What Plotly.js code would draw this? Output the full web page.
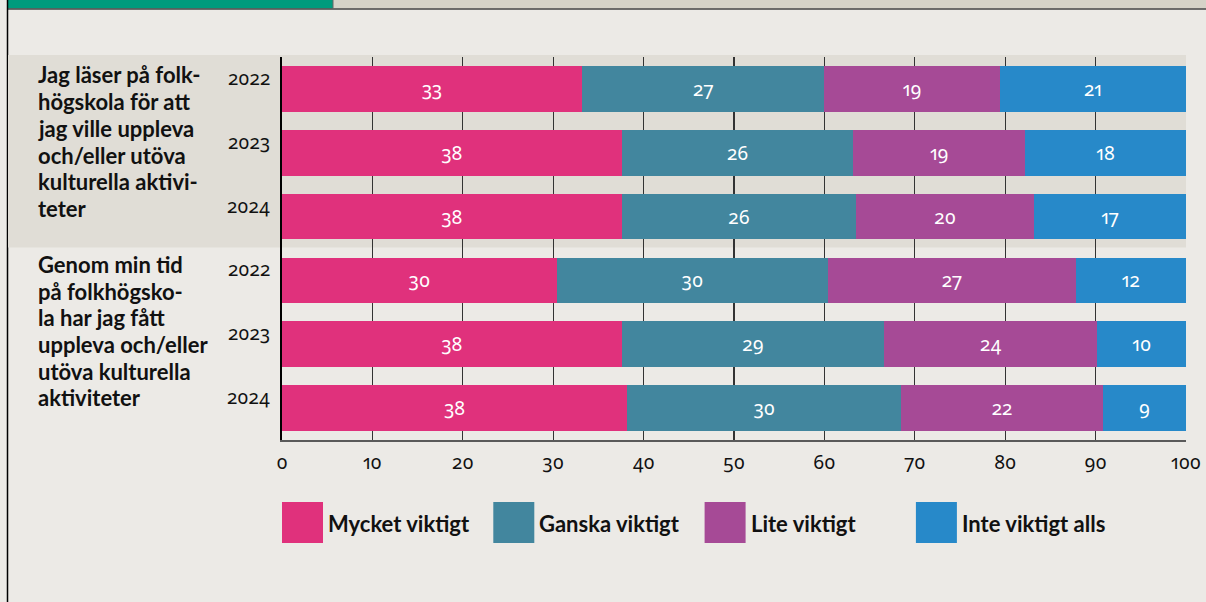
<!DOCTYPE html>
<html>
<head>
<meta charset="utf-8">
<script src="https://cdn.plot.ly/plotly-3.0.1.min.js"></script>
<style>
  html, body { margin: 0; padding: 0; background: #ECEAE6; }
  #chart { width: 1206px; height: 602px; }
  text { font-feature-settings: "onum" 1, "pnum" 1; }
</style>
</head>
<body>
<div id="chart"></div>
<script>
// ---- data ----
const groups = [
  'Jag läser på folk-<br>högskola för att<br>jag ville uppleva<br>och/eller utöva<br>kulturella aktivi-<br>teter',
  'Genom min tid<br>på folkhögsko-<br>la har jag fått<br>uppleva och/eller<br>utöva kulturella<br>aktiviteter'
];
const years = ['2022', '2023', '2024'];
const seriesNames = ['Mycket viktigt', 'Ganska viktigt', 'Lite viktigt', 'Inte viktigt alls'];
const seriesColors = ['#E0317C', '#42869E', '#A64A96', '#2789C9'];
const mycketViktigt = [33.2, 37.6, 37.6, 30.4, 37.6, 38.2];
const ganskaViktigt = [26.8, 25.6, 25.9, 30.0, 29.0, 30.3];
const liteViktigt   = [19.4, 19.0, 19.7, 27.4, 23.6, 22.3];
const inteViktigt   = [20.6, 17.8, 16.8, 12.2, 9.8, 9.2];
const xTicks = [0, 10, 20, 30, 40, 50, 60, 70, 80, 90, 100];

// ---- layout helpers ----
const FULLW = 1206, FULLH = 602;
const M = { l: 282, r: 20, t: 57, b: 162 };
const PW = FULLW - M.l - M.r, PH = FULLH - M.t - M.b;
const px = x => (x - M.l) / PW;
const py = y => (FULLH - M.b - y) / PH;

const NUMFONT = '"Noto Sans", "DejaVu Sans", sans-serif';
const TXTFONT = 'Lato, "Noto Sans", sans-serif';

const rowKeys = [];
groups.forEach((g, gi) => years.forEach(y => rowKeys.push('g' + gi + '-' + y)));

const seriesValues = [mycketViktigt, ganskaViktigt, liteViktigt, inteViktigt];
const traces = seriesNames.map((name, i) => ({
  type: 'bar',
  orientation: 'h',
  name: name,
  y: rowKeys,
  x: seriesValues[i],
  marker: { color: seriesColors[i], line: { width: 0 } },
  width: 0.715,
  texttemplate: '%{x:.0f}',
  textposition: 'inside',
  insidetextanchor: 'middle',
  constraintext: 'none',
  textfont: { family: NUMFONT, size: 19, color: '#FFFFFF' },
  hoverinfo: 'skip',
  showlegend: false
}));

const shapes = [];
const annotations = [];

// top decoration strip
shapes.push({ type: 'rect', xref: 'paper', yref: 'paper', x0: px(333), x1: px(1206), y0: py(8.5), y1: py(0),
  fillcolor: '#D6D3C8', line: { width: 0 }, layer: 'below' });
shapes.push({ type: 'rect', xref: 'paper', yref: 'paper', x0: px(8), x1: px(333), y0: py(8.5), y1: py(0),
  fillcolor: '#009B7D', line: { width: 0 }, layer: 'below' });
shapes.push({ type: 'line', xref: 'paper', yref: 'paper', x0: px(8), x1: px(1206), y0: py(9), y1: py(9),
  line: { color: '#444444', width: 1.5 }, layer: 'below' });
shapes.push({ type: 'line', xref: 'paper', yref: 'paper', x0: px(333), x1: px(333), y0: py(0), y1: py(9),
  line: { color: '#666666', width: 1 }, layer: 'below' });
// left border
shapes.push({ type: 'line', xref: 'paper', yref: 'paper', x0: px(7.5), x1: px(7.5), y0: py(0), y1: py(602),
  line: { color: '#000000', width: 1.5 }, layer: 'below' });
// band behind first group
shapes.push({ type: 'rect', xref: 'paper', yref: 'paper', x0: px(8), x1: 1, y0: py(247.5), y1: py(55),
  fillcolor: '#E0DDD6', line: { width: 0 }, layer: 'below' });

// group labels, one annotation per line with fixed line pitch
const LINE_PITCH = 26.7;
const groupShift = [14, 16];
groups.forEach((g, gi) => {
  g.split('<br>').forEach((line, li) => {
    annotations.push({
      xref: 'paper', yref: 'y', x: px(36), y: rowKeys[gi * years.length],
      xanchor: 'left', yanchor: 'middle', yshift: groupShift[gi] - li * LINE_PITCH, align: 'left', showarrow: false,
      text: line, font: { family: TXTFONT, size: 22, color: '#111111', weight: 700 }
    });
  });
});
// year labels
rowKeys.forEach((k, i) => {
  annotations.push({
    xref: 'paper', yref: 'y', x: 0, y: k, xanchor: 'right', yanchor: 'middle',
    xshift: -10, yshift: 11, showarrow: false,
    text: years[i % years.length], font: { family: NUMFONT, size: 19, color: '#111111' }
  });
});
// custom legend
seriesNames.forEach((n, i) => {
  const x0 = px(282 + i * 211.3);
  shapes.push({ type: 'rect', xref: 'paper', yref: 'paper', x0: x0, x1: x0 + 41 / PW, y0: py(543), y1: py(502),
    fillcolor: seriesColors[i], line: { width: 0 } });
  annotations.push({ xref: 'paper', yref: 'paper', x: x0 + 44 / PW, y: py(523), xanchor: 'left', yanchor: 'middle',
    showarrow: false, text: n, font: { family: TXTFONT, size: 22, color: '#111111', weight: 700 } });
});

const layout = {
  width: FULLW, height: FULLH,
  margin: M,
  paper_bgcolor: '#ECEAE6',
  plot_bgcolor: 'rgba(0,0,0,0)',
  barmode: 'stack',
  showlegend: false,
  xaxis: {
    range: [0, 100], tickvals: xTicks, ticktext: xTicks.map(String),
    showgrid: true, gridcolor: '#333333', gridwidth: 1.2,
    zeroline: false, showline: true, linecolor: '#5a5a5a', linewidth: 2,
    ticks: '', ticklabelstandoff: 4,
    tickfont: { family: NUMFONT, size: 19, color: '#111111' }, fixedrange: true
  },
  yaxis: {
    type: 'category', categoryorder: 'array', categoryarray: rowKeys,
    range: [rowKeys.length - 0.5, -0.5], autorange: false,
    showgrid: false, zeroline: false, showline: true, linecolor: '#000000', linewidth: 2,
    showticklabels: false, ticks: '', fixedrange: true
  },
  shapes: shapes,
  annotations: annotations
};

Plotly.newPlot('chart', traces, layout, { displayModeBar: false, staticPlot: true });
</script>
</body>
</html>
